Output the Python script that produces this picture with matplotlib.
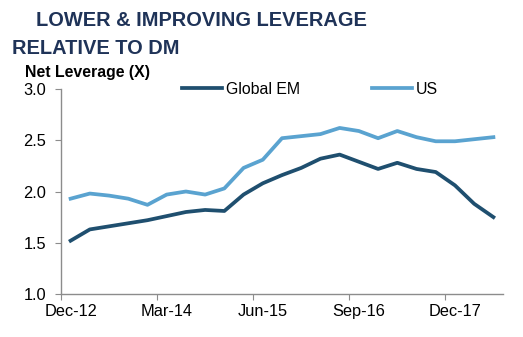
import matplotlib
matplotlib.use("Agg")
import matplotlib.pyplot as plt

plt.rcParams['font.family'] = ['Liberation Sans', 'DejaVu Sans']

quarters = ["Dec-12", "Mar-13", "Jun-13", "Sep-13", "Dec-13", "Mar-14", "Jun-14",
            "Sep-14", "Dec-14", "Mar-15", "Jun-15", "Sep-15", "Dec-15", "Mar-16",
            "Jun-16", "Sep-16", "Dec-16", "Mar-17", "Jun-17", "Sep-17", "Dec-17",
            "Mar-18", "Jun-18"]
global_em = [1.52, 1.63, 1.66, 1.69, 1.72, 1.76, 1.80, 1.82, 1.81, 1.97, 2.08, 2.16,
             2.23, 2.32, 2.36, 2.29, 2.22, 2.28, 2.22, 2.19, 2.06, 1.88, 1.75]
us = [1.93, 1.98, 1.96, 1.93, 1.87, 1.97, 2.00, 1.97, 2.03, 2.23, 2.31, 2.52,
      2.54, 2.56, 2.62, 2.59, 2.52, 2.59, 2.53, 2.49, 2.49, 2.51, 2.53]
label_every = 5
y_ticks = [1.0, 1.5, 2.0, 2.5, 3.0]

EM_COLOR = "#1f4f6f"
US_COLOR = "#5aa3d0"
TITLE_COLOR = "#1f3358"
AXIS_COLOR = "#8c8c8c"

W, H = 523, 337
fig = plt.figure(figsize=(W / 100, H / 100), dpi=100)
ax = fig.add_axes([61 / W, 1 - 294 / H, (503 - 61) / W, (294 - 89) / H])

x = list(range(len(quarters)))
ax.plot(x, global_em, color=EM_COLOR, lw=2.7, solid_joinstyle="round", label="Global EM")
ax.plot(x, us, color=US_COLOR, lw=2.7, solid_joinstyle="round", label="US")

ax.set_xlim(-0.5, len(quarters) - 0.5)
ax.set_ylim(1.0, 3.0)

# category boundaries carry the tick marks, category centres carry the labels
ax.set_xticks([i - 0.5 for i in range(0, len(quarters), label_every)])
ax.set_xticklabels([])
ax.set_xticks(list(range(0, len(quarters), label_every)), minor=True)
ax.set_xticklabels(quarters[::label_every], minor=True)
ax.tick_params(axis="x", which="major", length=4, color=AXIS_COLOR, direction="out")
ax.tick_params(axis="x", which="minor", length=0, pad=7, labelsize=11.8)

ax.set_yticks(y_ticks)
ax.set_yticklabels([f"{v:.1f}" for v in y_ticks])
ax.tick_params(axis="y", length=4, color=AXIS_COLOR, direction="out", pad=6.5, labelsize=11.8)

for side in ("top", "right"):
    ax.spines[side].set_visible(False)
for side in ("left", "bottom"):
    ax.spines[side].set_color(AXIS_COLOR)
    ax.spines[side].set_linewidth(1.0)

fig.text(36 / W, 1 - 20 / H, "LOWER & IMPROVING LEVERAGE", color=TITLE_COLOR,
         fontsize=14.4, fontweight="bold", va="center", ha="left")
fig.text(12 / W, 1 - 48 / H, "RELATIVE TO DM", color=TITLE_COLOR,
         fontsize=14.4, fontweight="bold", va="center", ha="left")
fig.text(25 / W, 1 - 72 / H, "Net Leverage (X)", color="black",
         fontsize=11.4, fontweight="bold", va="center", ha="left")

leg = ax.legend(loc="upper left", bbox_to_anchor=(182 / W, 1 - 82 / H),
                bbox_transform=fig.transFigure, ncol=2, frameon=False,
                fontsize=11.4, handlelength=2.5, handletextpad=0.25,
                columnspacing=4.6, borderaxespad=0, borderpad=0)

fig.savefig("out.png", dpi=100)
